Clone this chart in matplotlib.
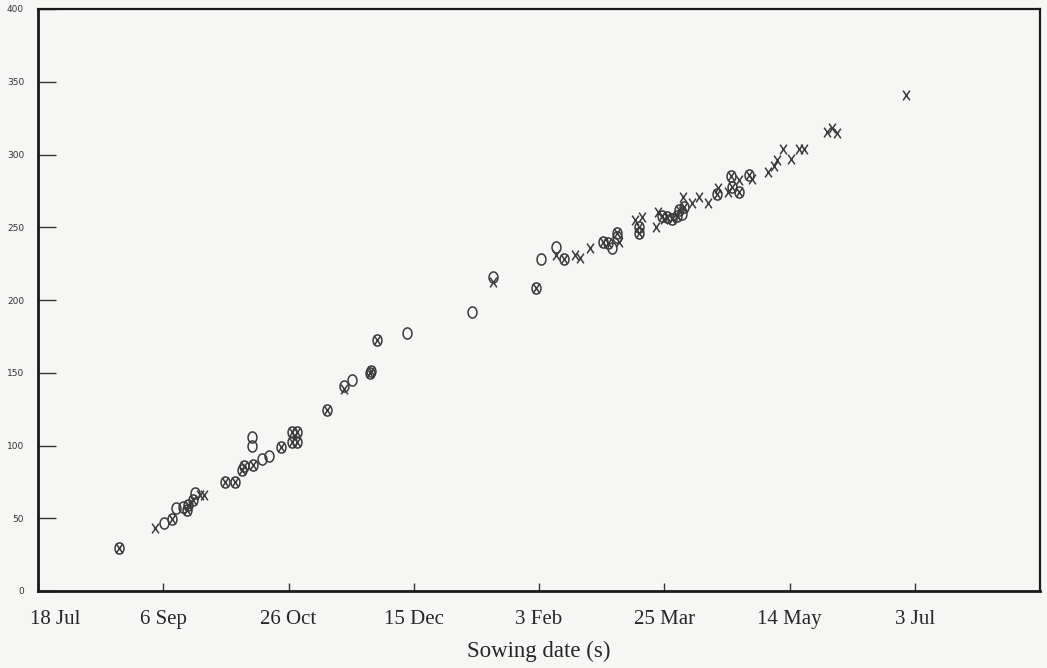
import numpy as np
import matplotlib
matplotlib.use("Agg")
import matplotlib.pyplot as plt
from matplotlib.path import Path
import matplotlib.transforms as mtransforms

# Days after 18 Jul (sowing date) and response values
o_days = [32.3, 50.4, 53.4, 55.1, 57.8, 59.6, 60.0, 62.0, 62.7, 74.7, 78.6, 81.3, 82.2,
          85.3, 85.3, 85.9, 89.3, 92.3, 97.0, 101.3, 103.3, 101.3, 103.3, 115.2, 122.3,
          125.2, 132.5, 132.8, 135.2, 147.2, 173.1, 181.8, 199.0, 200.8, 206.8, 210.0,
          225.7, 227.7, 229.0, 231.0, 231.0, 240.0, 240.0, 249.0, 251.0, 253.0, 255.0,
          256.0, 257.0, 258.0, 271.0, 276.5, 277.0, 280.0, 284.0]
o_vals = [29.5, 46.5, 49.3, 56.8, 58.0, 55.7, 59.0, 62.5, 67.1, 75.1, 75.1, 83.2, 85.9,
          106.0, 100.0, 86.6, 90.5, 93.0, 99.2, 109.5, 109.5, 102.6, 102.6, 124.4, 141.0,
          145.0, 149.6, 151.0, 172.5, 177.5, 192.0, 216.0, 208.0, 228.2, 236.6, 228.0,
          240.0, 239.0, 235.5, 245.8, 243.0, 250.0, 246.0, 258.0, 257.0, 256.0, 257.5,
          262.0, 259.0, 264.0, 273.0, 285.0, 278.0, 274.0, 286.0]

x_days = [32.3, 46.7, 53.4, 59.6, 60.0, 62.0, 64.7, 66.4, 74.7, 78.6, 81.3, 82.2, 85.9,
          97.0, 101.3, 103.3, 101.3, 103.3, 115.2, 122.3, 132.5, 132.8, 135.2, 181.8,
          199.0, 206.8, 210.0, 214.4, 216.4, 220.4, 225.7, 227.7, 231.0, 232.0, 238.3,
          241.0, 240.0, 240.0, 246.7, 247.6, 249.0, 250.0, 251.0, 253.0, 255.0, 257.4,
          256.0, 258.0, 261.0, 264.0, 267.3, 271.0, 271.5, 275.6, 276.5, 280.0, 277.0,
          280.0, 284.0, 285.0, 291.5, 294.0, 295.0, 297.6, 300.6, 303.6, 305.8, 314.8,
          316.8, 319.0, 346.4]
x_vals = [29.5, 43.1, 49.3, 55.7, 59.0, 62.5, 66.0, 66.0, 75.1, 75.1, 83.2, 85.9, 86.6,
          99.2, 109.5, 109.5, 102.6, 102.6, 124.4, 139.0, 149.6, 151.0, 172.5, 212.6,
          208.0, 231.0, 228.0, 231.0, 228.7, 235.5, 240.0, 239.0, 245.8, 240.0, 255.0,
          257.0, 250.0, 246.0, 250.0, 260.7, 258.0, 256.0, 257.0, 256.0, 257.5, 271.0,
          262.0, 264.0, 267.0, 271.0, 267.0, 273.0, 276.7, 274.5, 285.0, 282.5, 278.0,
          274.0, 286.0, 283.0, 288.0, 292.0, 296.0, 304.0, 297.0, 303.5, 304.0, 315.7,
          318.0, 315.0, 341.0]

tick_days = [0, 50, 100, 150, 200, 250, 300, 350]
tick_labels = ["18 Jul", "6 Sep", "26 Oct", "15 Dec", "3 Feb", "25 Mar", "14 May", "3 Jul"]
y_ticks = [0, 50, 100, 150, 200, 250, 300, 350, 400]

bg = "#f6f6f5"
ink = "#3a3a3a"

fig = plt.figure(figsize=(10.47, 6.68), dpi=100, facecolor=bg)
ax = fig.add_axes([38 / 1047, 77 / 668, 1002 / 1047, 582 / 668], facecolor=bg)

# letter-like markers: narrow "O" and tall "X"
t = np.linspace(0, 2 * np.pi, 60)
o_marker = Path(np.column_stack([0.8 * np.cos(t), np.sin(t)]), closed=True)
x_marker = Path([(-0.7, -1), (0.7, 1), (-0.7, 1), (0.7, -1)],
                [Path.MOVETO, Path.LINETO, Path.MOVETO, Path.LINETO])

ax.plot(o_days, o_vals, linestyle="none", marker=o_marker, markersize=8,
        markerfacecolor="none", markeredgecolor=ink, markeredgewidth=1.1)
ax.plot(x_days, x_vals, linestyle="none", marker=x_marker, markersize=7,
        markeredgecolor=ink, markeredgewidth=1.1)

ax.set_xlim(0, 400)
ax.set_ylim(0, 400)

ax.set_xticks(tick_days)
ax.set_xticklabels(tick_labels, family="Liberation Serif", fontsize=15, color="#262626")
ax.set_yticks(y_ticks)
ax.set_yticklabels([str(v) for v in y_ticks], family="DejaVu Sans", fontsize=6.5,
                   color="#333333")
ax.tick_params(axis="x", direction="in", length=6, width=1, pad=14, color="#333333")
ax.tick_params(axis="y", direction="in", length=13, width=1, pad=10, color="#333333")

# shift first x label slightly to the right as in the reference
lab0 = ax.get_xticklabels()[0]
lab0.set_transform(lab0.get_transform() + mtransforms.ScaledTranslation(17 / 100, 0, fig.dpi_scale_trans))

ax.set_xlabel("Sowing date (s)", family="Liberation Serif", fontsize=16.5, color="#262626",
              labelpad=8)

for side in ["left", "bottom"]:
    ax.spines[side].set_linewidth(2.0)
for side in ["top", "right"]:
    ax.spines[side].set_linewidth(1.6)
for s in ax.spines.values():
    s.set_color("#1a1a1a")

fig.savefig("out.png", dpi=100, facecolor=bg)
